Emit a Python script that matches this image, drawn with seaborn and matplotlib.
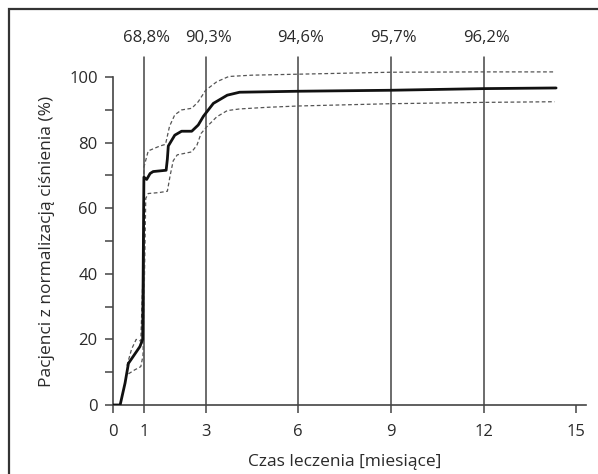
import matplotlib
matplotlib.use("Agg")
import matplotlib.pyplot as plt
from matplotlib.patches import Rectangle
import seaborn as sns
import pandas as pd

# ---- data ----
months = [0, 0.23, 0.39, 0.5, 0.87, 0.96, 1.0, 1.09, 1.2, 1.3, 1.72, 1.76, 1.79,
          2.0, 2.22, 2.55, 2.76, 2.93, 3.25, 3.7, 4.1, 6, 9, 12, 14.35]
pct = [0, 0, 6.7, 12.7, 17.8, 20, 69.5, 68.8, 70.6, 71.2, 71.6, 75, 79,
       82.3, 83.5, 83.5, 85.4, 88.1, 92, 94.5, 95.4, 95.7, 96.0, 96.5, 96.7]

upper_x = [0.45, 0.6, 0.75, 0.9, 0.97, 1.0, 1.14, 1.52, 1.7, 1.83, 2.0, 2.22, 2.55,
           2.76, 3.0, 3.36, 3.75, 4.5, 6, 9, 12, 14.3]
upper_y = [12, 17, 20, 19.5, 40, 72.5, 77.5, 79, 79.5, 85, 88.5, 90, 90.5,
           92.5, 96, 98.6, 100.2, 100.6, 100.9, 101.5, 101.6, 101.6]

lower_x = [0.5, 0.7, 0.9, 0.97, 1.02, 1.06, 1.14, 1.5, 1.76, 1.85, 1.95, 2.08, 2.55,
           2.72, 2.85, 3.03, 3.36, 3.7, 4.1, 5, 6, 9, 12, 14.3]
lower_y = [9.5, 10.7, 11.7, 15, 40, 63, 64.5, 64.8, 65.2, 70, 74.5, 76.3, 77.2,
           79.3, 82.8, 84.8, 87.9, 89.8, 90.3, 90.8, 91.2, 91.9, 92.3, 92.5]

marker_months = [1, 3, 6, 9, 12]
marker_labels = ["68,8%", "90,3%", "94,6%", "95,7%", "96,2%"]

x_ticks = [0, 1, 3, 6, 9, 12, 15]
y_ticks = [0, 10, 20, 30, 40, 50, 60, 70, 80, 90, 100]
y_ticklabels = ["0", "", "20", "", "40", "", "60", "", "80", "", "100"]

xlabel = "Czas leczenia [miesiące]"
ylabel = "Pacjenci z normalizacją ciśnienia (%)"

# ---- style ----
sns.set_style("ticks")
plt.rcParams["font.family"] = ["Open Sans", "DejaVu Sans"]
text_color = "#2a2a2a"
line_color = "#444444"

fig = plt.figure(figsize=(5.98, 4.74), dpi=100)
ax = fig.add_axes([0.189, 0.1456, 0.791, 0.7954])

# vertical reference lines
for m in marker_months:
    ax.plot([m, m], [0, 106], color=line_color, lw=1.1, zorder=1)
for m, lab in zip(marker_months, marker_labels):
    ax.text(m + 0.08, 112, lab, ha="center", va="center", fontsize=12, color=text_color)

df_main = pd.DataFrame({"x": months, "y": pct})
df_up = pd.DataFrame({"x": upper_x, "y": upper_y})
df_lo = pd.DataFrame({"x": lower_x, "y": lower_y})

for d in (df_up, df_lo):
    sns.lineplot(data=d, x="x", y="y", ax=ax, estimator=None, sort=False,
                 color="#555555", lw=0.9, linestyle=(0, (3, 2)), zorder=2)
sns.lineplot(data=df_main, x="x", y="y", ax=ax, estimator=None, sort=False,
             color="#111111", lw=2.0, zorder=3)

xmax, ymax = 15.32, 115
ax.set_xlim(0, xmax)
ax.set_ylim(0, ymax)
ax.set_xticks(x_ticks)
ax.set_xticklabels([str(t) for t in x_ticks])
ax.set_yticks(y_ticks)
ax.set_yticklabels(y_ticklabels)
ax.spines["left"].set_bounds(0, 100)
for s in ("top", "right"):
    ax.spines[s].set_visible(False)
for s in ("left", "bottom"):
    ax.spines[s].set_color(line_color)
    ax.spines[s].set_linewidth(1.2)
ax.tick_params(axis="both", direction="out", length=6, width=1.1, color=line_color,
               labelsize=12, labelcolor=text_color)
ax.tick_params(axis="x", pad=8)
ax.tick_params(axis="y", pad=5)
ax.set_xlabel(xlabel, fontsize=12.5, color=text_color, labelpad=10, x=7.5 / xmax)
ax.set_ylabel(ylabel, fontsize=12.5, color=text_color, labelpad=10, y=50 / ymax)

# outer frame (cropped at right and bottom)
fig.add_artist(Rectangle((9 / 598, -0.1), 1.2, 1.1 - 9 / 474, transform=fig.transFigure,
                         fill=False, edgecolor="#333333", lw=1.6))

fig.savefig("out.png", dpi=100)
